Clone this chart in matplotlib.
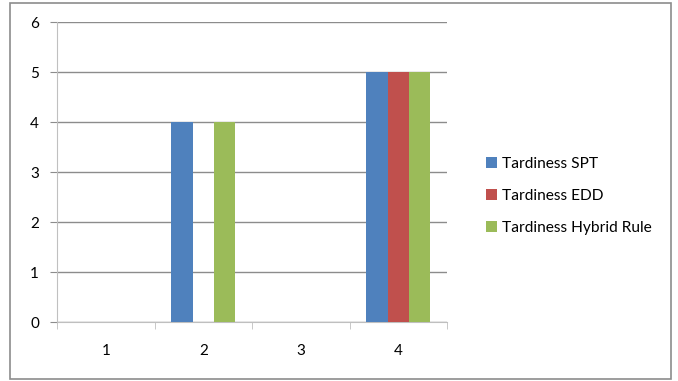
import numpy as np
import matplotlib.pyplot as plt
from matplotlib.patches import Rectangle

# tardiness per job, one list per dispatching rule
jobs = ['1', '2', '3', '4']
tardiness_spt = [0, 4, 0, 5]
tardiness_edd = [0, 0, 0, 5]
tardiness_hybrid = [0, 4, 0, 5]
series_names = ['Tardiness SPT', 'Tardiness EDD', 'Tardiness Hybrid Rule']
series_colors = ['#4f81bd', '#c0504d', '#9bbb59']

plt.rcParams['font.family'] = ['Lato', 'DejaVu Sans']

fig = plt.figure(figsize=(6.78, 3.81), dpi=100)
ax = fig.add_axes([57 / 678, 1 - 322 / 381, 390 / 678, 300 / 381])

# grey frame round the whole chart
fig.patches.append(Rectangle((10 / 678, 1 - 379 / 381), 661 / 678, 376 / 381,
                             transform=fig.transFigure, fill=False,
                             edgecolor='#8c8c8c', linewidth=1.2))

x = np.arange(len(jobs))
width = 0.22
for i, (vals, name, color) in enumerate(zip([tardiness_spt, tardiness_edd, tardiness_hybrid],
                                            series_names, series_colors)):
    ax.bar(x + (i - 1) * width, vals, width, color=color, label=name, zorder=3)

ax.set_xlim(-0.5, len(jobs) - 0.5)
ax.set_ylim(0, 6)
ax.set_yticks(range(7))
ax.yaxis.grid(True, color='#8c8c8c', linewidth=1.0, zorder=0)

ax.set_xticks(x)
ax.set_xticklabels(jobs)
ax.set_xticks(np.arange(len(jobs) + 1) - 0.5, minor=True)
ax.tick_params(axis='x', which='major', length=0, pad=16, labelsize=11)
ax.tick_params(axis='x', which='minor', length=5, color='#bfbfbf', direction='out')
ax.tick_params(axis='y', length=5, color='#8c8c8c', labelsize=11, pad=8)

for side in ['top', 'right']:
    ax.spines[side].set_visible(False)
ax.spines['left'].set_color('#c0c0c0')
ax.spines['bottom'].set_color('#bfbfbf')

ax.legend(loc='center left', bbox_to_anchor=(472 / 678, 1 - 196 / 381),
          bbox_transform=fig.transFigure, frameon=False, fontsize=11.2,
          handlelength=0.7, handleheight=0.7, handletextpad=0.3, labelspacing=1.15)

fig.savefig('out.png', dpi=100)
